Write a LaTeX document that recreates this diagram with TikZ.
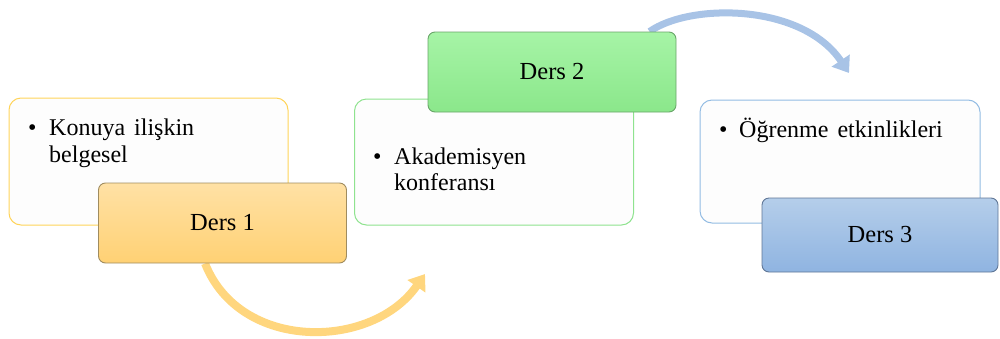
\documentclass[tikz,border=0pt]{standalone}
\usepackage{fontspec}
\setmainfont{Liberation Serif}
\usetikzlibrary{arrows.meta,calc}
\pgfdeclarelayer{background}
\pgfsetlayers{background,main}
\definecolor{yelB}{HTML}{FFD45A}
\definecolor{grnB}{HTML}{8FE38F}
\definecolor{bluB}{HTML}{93BCE3}
\definecolor{yelT}{HTML}{FFE1A5}
\definecolor{yelD}{HTML}{FFD174}
\definecolor{grnT}{HTML}{A6F4A6}
\definecolor{grnD}{HTML}{8BE78B}
\definecolor{bluT}{HTML}{B5CEEA}
\definecolor{bluD}{HTML}{8FB4E1}
\definecolor{yelA}{HTML}{FFD67E}
\definecolor{bluA}{HTML}{A8C3E6}
\definecolor{whiteF}{HTML}{FDFDFD}
\tikzset{
  infobox/.style={draw=#1, line width=1pt, fill=whiteF, rounded corners=12pt, inner sep=0pt},
  dersbox/.style={line width=0.9pt, rounded corners=7pt, inner sep=0pt, minimum width=248pt, minimum height=80pt, font=\fontsize{24.5}{29}\selectfont},
  txt/.style={anchor=base west, inner sep=0pt, font=\fontsize{24}{29}\selectfont},
  flow/.style={line width=8pt, -{Triangle[length=15pt,width=21pt]}}
}
\begin{document}
\begin{tikzpicture}[x=1pt,y=-1pt]
\useasboundingbox (0,0) rectangle (1000,338);
% boxes
\node[infobox=yelB, minimum width=279pt, minimum height=127pt] (b1) at (148.5,161.5) {};
\node[infobox=grnB, minimum width=279pt, minimum height=126pt] (b2) at (494,162) {};
\node[infobox=bluB, minimum width=280pt, minimum height=123pt] (b3) at (840,161.5) {};
\node[dersbox, draw={rgb,255:red,160;green,140;blue,95}, top color=yelT, bottom color=yelD] (d1) at (222.5,223) {Ders 1};
\node[dersbox, draw={rgb,255:red,105;green,165;blue,105}, top color=grnT, bottom color=grnD] (d2) at (552,72) {Ders 2};
\node[dersbox, draw={rgb,255:red,95;green,118;blue,150}, top color=bluT, bottom color=bluD, minimum width=236pt, minimum height=74pt] (d3) at (880,235) {Ders 3};
% texts
\node[txt] (p1) at (28,135) {•};
\node[txt] (t1a) at (49,135) {Konuya\hspace{3pt} ilişkin};
\node[txt] (t1b) at (49,162) {belgesel};
\node[txt] (p2) at (373,164) {•};
\node[txt] (t2a) at (394,164) {Akademisyen};
\node[txt] (t2b) at (394,190) {konferansı};
\node[txt] (p3) at (719,137) {•};
\node[txt] (t3a) at (739,137) {Öğrenme\hspace{3pt} etkinlikleri};
% arrows
\coordinate (e1) at (425,274);
\coordinate (e2) at (849,73);
\begin{pgfonlayer}{background}
\draw[flow, draw=yelA] ($(d1.south west)+(107,0)$) .. controls (240,352) and (372,350) .. (e1);
\draw[flow, draw=bluA, line width=7pt] ($(d2.north west)+(222,0)$) .. controls (690,3) and (802,3) .. (e2);
\end{pgfonlayer}
\end{tikzpicture}
\end{document}
